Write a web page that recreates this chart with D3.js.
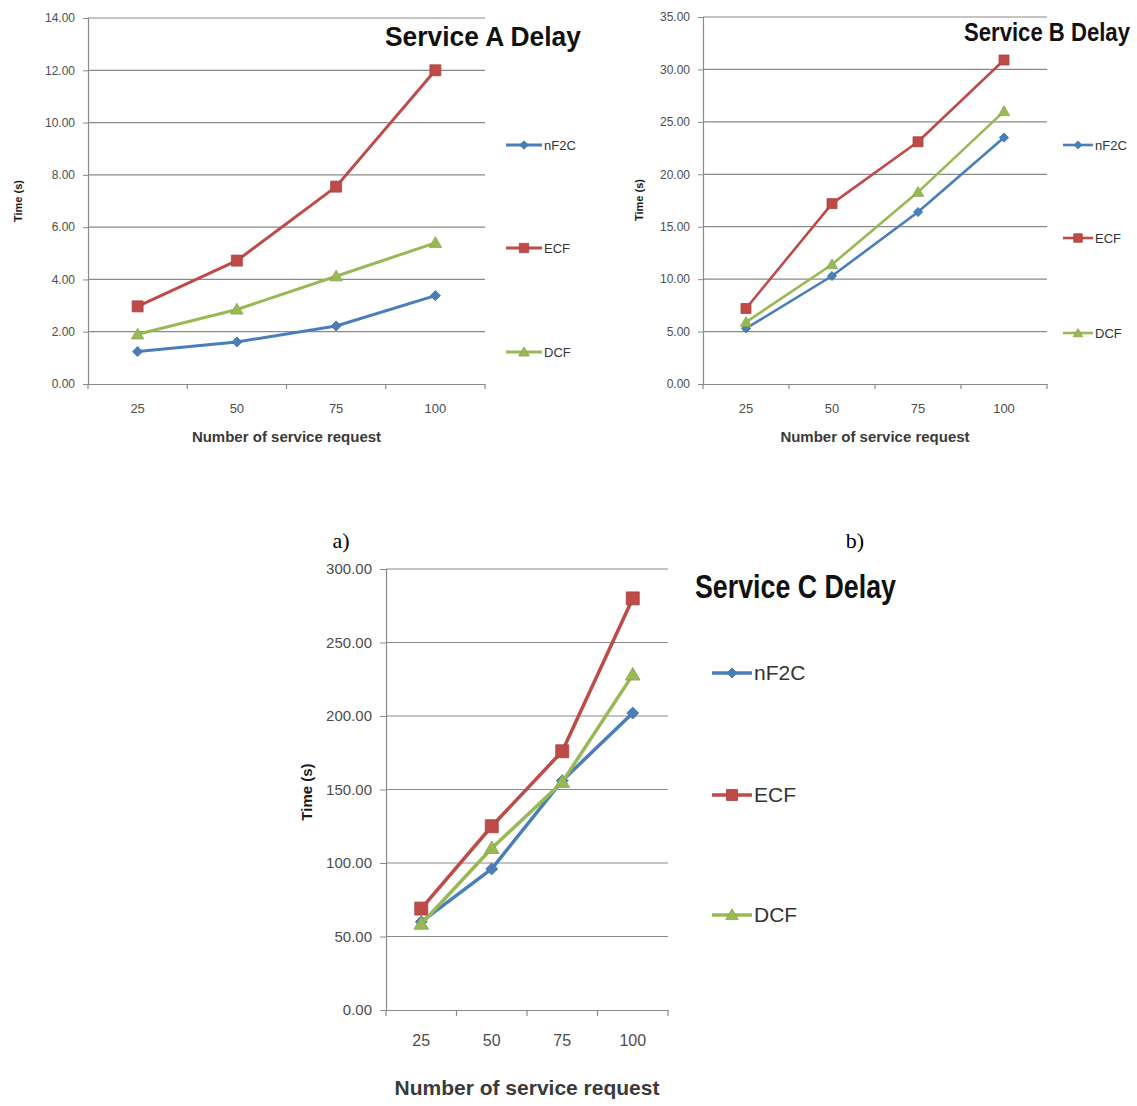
<!DOCTYPE html>
<html><head><meta charset="utf-8">
<script src="https://cdn.jsdelivr.net/npm/d3@7"></script>
<style>body{margin:0;background:#fff}svg{display:block}</style>
</head><body>
<svg id="c" width="1137" height="1106"></svg>
<script>
const categories = ["25","50","75","100"];
const seriesNames = ["nF2C","ECF","DCF"];
const seriesColors = ["#4a7ebb","#be4b48","#98b954"];
const seriesShapes = ["diamond","square","triangle"];

const titleA = "Service A Delay";
const nF2C_A = [1.24, 1.61, 2.22, 3.38];
const ECF_A  = [2.97, 4.72, 7.55, 12.0];
const DCF_A  = [1.90, 2.85, 4.12, 5.40];
const ticksA = [0,2,4,6,8,10,12,14];

const titleB = "Service B Delay";
const nF2C_B = [5.3, 10.3, 16.4, 23.5];
const ECF_B  = [7.2, 17.2, 23.1, 30.9];
const DCF_B  = [5.9, 11.4, 18.3, 26.0];
const ticksB = [0,5,10,15,20,25,30,35];

const titleC = "Service C Delay";
const nF2C_C = [60, 96, 156, 202];
const ECF_C  = [69, 125, 176, 280];
const DCF_C  = [58.5, 110, 155, 228];
const ticksC = [0,50,100,150,200,250,300];

const xTitle = "Number of service request";
const yTitle = "Time (s)";
const captions = ["a)","b)"];

const svg = d3.select("#c");
const sans = "'Liberation Sans Narrow','Arial Narrow','Liberation Sans',Arial,sans-serif";
const tickFont = "'Liberation Sans',Arial,sans-serif";

function drawChart(cfg){
  const g = svg.append("g");
  const x = d3.scaleBand().domain(categories).range([cfg.left, cfg.right]);
  const y = d3.scaleLinear().domain([0, cfg.ticks[cfg.ticks.length-1]]).range([cfg.bottom, cfg.top]);
  g.selectAll("line.grid").data(cfg.ticks.slice(1)).join("line")
    .attr("x1", cfg.left).attr("x2", cfg.right)
    .attr("y1", d=>y(d)).attr("y2", d=>y(d))
    .attr("stroke", "#8a8a8a").attr("stroke-width", 1.2);
  const ya = g.append("g").attr("transform", `translate(${cfg.left},0)`)
    .call(d3.axisLeft(y).tickValues(cfg.ticks).tickFormat(d3.format(".2f")).tickSize(cfg.tickLen).tickPadding(cfg.tickPad));
  ya.select(".domain").attr("stroke","#8a8a8a").attr("stroke-width",1.2);
  ya.selectAll(".tick line").attr("stroke","#8a8a8a");
  ya.selectAll("text").attr("font-family", tickFont).attr("font-size", cfg.tickSize).attr("fill","#4d4d4d");
  const xa = g.append("g").attr("transform", `translate(0,${cfg.bottom})`)
    .call(d3.axisBottom(x).tickSize(0).tickPadding(cfg.xTickPad));
  xa.select(".domain").attr("stroke","#8a8a8a").attr("stroke-width",1.2);
  xa.selectAll("text").attr("font-family", tickFont).attr("font-size", cfg.xTickSize).attr("fill","#4d4d4d");
  const bounds = categories.map(c=>x(c)).concat([x(categories[categories.length-1])+x.bandwidth()]);
  g.selectAll("line.xt").data(bounds).join("line")
    .attr("x1", d=>d).attr("x2", d=>d).attr("y1", cfg.bottom).attr("y2", cfg.bottom+cfg.tickLen)
    .attr("stroke","#8a8a8a").attr("stroke-width",1.2);
  g.append("text").attr("x", (cfg.left+cfg.right)/2).attr("y", cfg.xTitleY)
    .attr("text-anchor","middle").attr("font-family", sans).attr("font-weight","bold")
    .attr("font-size", cfg.xTitleSize).attr("fill","#3a3a3a").text(xTitle);
  g.append("text").attr("transform", `translate(${cfg.yTitleX},${cfg.yTitleY}) rotate(-90)`)
    .attr("text-anchor","middle").attr("font-family", tickFont).attr("font-weight","bold")
    .attr("font-size", cfg.yTitleSize).attr("fill","#1a1a1a").text(yTitle);
  const t = g.append("text").attr("x", 0).attr("y", 0)
    .attr("font-family", sans).attr("font-weight","bold").attr("font-size", cfg.titleSize)
    .attr("fill","#111").text(cfg.title);
  const natural = t.node().getComputedTextLength();
  t.attr("transform", `translate(${cfg.titleX},${cfg.titleY}) scale(${cfg.titleW/natural},1)`);
  const line = d3.line().x((d,i)=>x(categories[i])+x.bandwidth()/2).y(d=>y(d));
  cfg.series.forEach((vals, si)=>{
    g.append("path").attr("d", line(vals)).attr("fill","none")
      .attr("stroke", seriesColors[si]).attr("stroke-width", cfg.lw).attr("stroke-linejoin","round");
    vals.forEach((v,i)=>{
      drawMarker(g, seriesShapes[si], x(categories[i])+x.bandwidth()/2, y(v), cfg.ms, seriesColors[si]);
    });
  });
  seriesNames.forEach((n, si)=>{
    const ly = cfg.legY[si];
    g.append("line").attr("x1", cfg.legX0).attr("x2", cfg.legX1).attr("y1", ly).attr("y2", ly)
      .attr("stroke", seriesColors[si]).attr("stroke-width", cfg.lw);
    drawMarker(g, seriesShapes[si], (cfg.legX0+cfg.legX1)/2, ly, cfg.ms*0.85, seriesColors[si]);
    g.append("text").attr("x", cfg.legX1+2).attr("y", ly).attr("dy","0.35em")
      .attr("font-family", sans).attr("font-size", cfg.legSize).attr("fill","#333").text(n);
  });
}

function drawMarker(g, shape, cx, cy, s, color){
  let path, rot = 0;
  if (shape==="square") { path = d3.symbol().type(d3.symbolSquare).size(s*s)(); }
  else if (shape==="triangle") { path = d3.symbol().type(d3.symbolTriangle).size(s*s*0.55)(); }
  else { path = d3.symbol().type(d3.symbolSquare).size(s*s*0.42)(); rot = 45; }
  g.append("path").attr("d", path)
    .attr("transform", `translate(${cx},${cy + (shape==="triangle"? 1:0)}) rotate(${rot})`)
    .attr("fill", color).attr("stroke", d3.color(color).darker(0.3)).attr("stroke-width", 0.8);
}

drawChart({title:titleA, series:[nF2C_A, ECF_A, DCF_A], ticks:ticksA,
  left:88, right:485, top:18, bottom:384, tickLen:5, tickPad:8, xTickPad:20, tickSize:12, xTickSize:13,
  xTitleY:442, xTitleSize:15, yTitleX:22, yTitleY:201, yTitleSize:11,
  titleX:385, titleY:46, titleSize:27, titleW:196,
  lw:3, ms:11, legX0:506, legX1:542, legY:[145,248,352], legSize:13});

drawChart({title:titleB, series:[nF2C_B, ECF_B, DCF_B], ticks:ticksB,
  left:703, right:1047, top:17, bottom:384, tickLen:5, tickPad:8, xTickPad:20, tickSize:12, xTickSize:13,
  xTitleY:442, xTitleSize:15, yTitleX:643, yTitleY:200, yTitleSize:11,
  titleX:964, titleY:41, titleSize:25, titleW:166,
  lw:2.6, ms:10, legX0:1063, legX1:1093, legY:[145,238,333], legSize:13});

drawChart({title:titleC, series:[nF2C_C, ECF_C, DCF_C], ticks:ticksC,
  left:386, right:668, top:569, bottom:1010, tickLen:6, tickPad:8, xTickPad:25, tickSize:15, xTickSize:16,
  xTitleY:1095, xTitleSize:21, yTitleX:312, yTitleY:792, yTitleSize:15,
  titleX:695, titleY:598, titleSize:34, titleW:201,
  lw:3.5, ms:13, legX0:712, legX1:752, legY:[673,795,915], legSize:21});

svg.selectAll("text.cap").data(captions).join("text").attr("class","cap")
  .attr("x", (d,i)=> i===0 ? 341 : 855).attr("y", 548).attr("text-anchor","middle")
  .attr("font-family","'Liberation Serif','Times New Roman',serif").attr("font-size",22).attr("fill","#000")
  .text(d=>d);
</script>
</body></html>
